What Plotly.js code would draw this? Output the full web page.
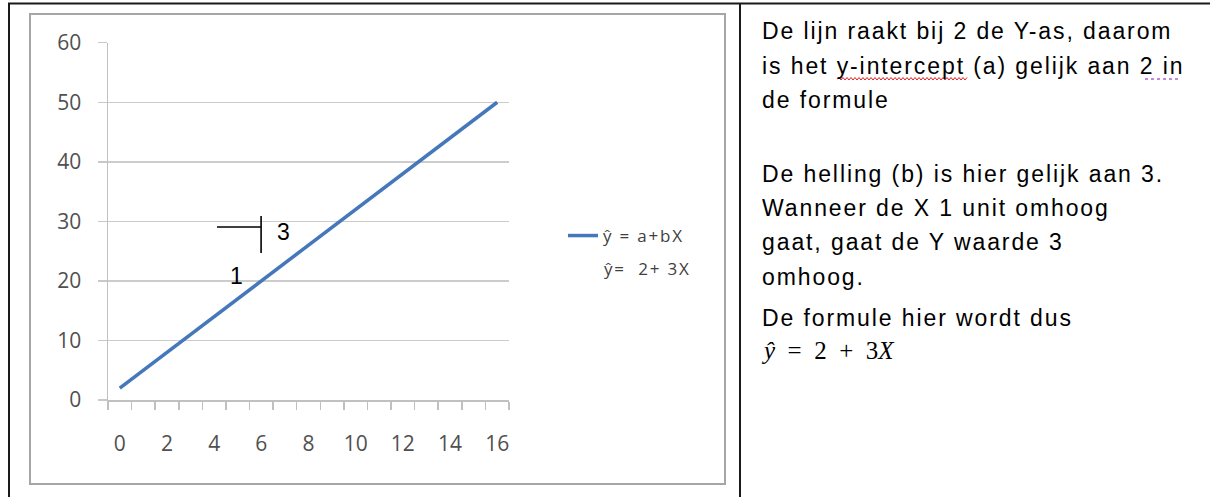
<!DOCTYPE html>
<html>
<head>
<meta charset="utf-8">
<script src="https://cdn.plot.ly/plotly-3.0.1.min.js"></script>
<style>
  body {margin:0; padding:0; background:#ffffff;}
  #plot {width:1210px; height:497px;}
  /* screen-rendered Arial in the original is wide, imitate with spacing */
  text.annotation-text[style*="Liberation Sans"] {letter-spacing:1.9px;}
  text.annotation-text[style*="Open Sans"], text.legendtext {letter-spacing:1.8px;}
</style>
</head>
<body>
<div id="plot"></div>
<script>
//data of the chart
const xValues=[0,1,2,3,4,5,6,7,8,9,10,11,12,13,14,15,16];
const yValues=[2,5,8,11,14,17,20,23,26,29,32,35,38,41,44,47,50];
const xTickVals=[0,2,4,6,8,10,12,14,16];
const xTickText=['0','2','4','6','8','10','12','14','16'];
const legendLine1='ŷ = a+bX';
const legendLine2='ŷ=\u00a0\u00a02+ 3X';

//text in the right cell of the table
const rightText=[
  'De lijn raakt bij 2 de Y-as, daarom',
  'is het y-intercept (a) gelijk aan 2 in',
  'de formule',
  'De helling (b) is hier gelijk aan 3.',
  'Wanneer de X 1 unit omhoog',
  'gaat, gaat de Y waarde 3',
  'omhoog.',
  'De formule hier wordt dus'
];
const rightTextY=[31,66,100,174,208,242,277,318];

const W=1210;
const H=497;

//pixel -> paper helpers
function px(x) {
  return x/W;
}
function py(y) {
  return (H-y)/H;
}

//ticks between the categories (excel category axis)
let minorVals=[];
for (let i=0;i<=xValues.length;i++)
{
  minorVals.push(i-0.5);
}

var annotations=[];
for (let i in rightText)
{
  annotations.push({
    xref:'paper', yref:'paper',
    x:px(760), y:py(rightTextY[i]),
    xanchor:'left', yanchor:'middle',
    text:rightText[i], showarrow:false,
    font:{family:'Liberation Sans, Arial, sans-serif', size:23, color:'#000000'}
  });
}
//formula line
annotations.push({
  xref:'paper', yref:'paper',
  x:px(759), y:py(350),
  xanchor:'left', yanchor:'middle',
  text:'<i>ŷ</i>\u2002=\u20022\u2002+\u20023<i>X</i>', showarrow:false,
  font:{family:'Liberation Serif, serif', size:25, color:'#000000'}
});
//second line of the legend
annotations.push({
  xref:'paper', yref:'paper',
  x:px(602), y:py(268),
  xanchor:'left', yanchor:'middle',
  text:legendLine2, showarrow:false,
  font:{family:'Open Sans, sans-serif', size:17, color:'#404040'}
});
//slope labels
annotations.push({
  xref:'x', yref:'y', x:7.0, y:28.2,
  text:'3', showarrow:false,
  font:{family:'Liberation Sans Narrow, Liberation Sans, sans-serif', size:23, color:'#000000'}
});
annotations.push({
  xref:'x', yref:'y', x:5.0, y:20.8,
  text:'1', showarrow:false,
  font:{family:'Liberation Sans Narrow, Liberation Sans, sans-serif', size:23, color:'#000000'}
});

//red spell check wave under y-intercept
let wave='M'+px(837)+','+py(79);
let up=true;
for (let x=839;x<=968;x+=2)
{
  wave+=' L'+px(x)+','+py(up ? 77.5 : 80);
  up=!up;
}

var shapes=[
  //table lines
  {type:'line', xref:'paper', yref:'paper', x0:px(8), x1:px(1210), y0:py(3.5), y1:py(3.5), line:{color:'#1a1a1a', width:2}},
  {type:'line', xref:'paper', yref:'paper', x0:px(9), x1:px(9), y0:py(3), y1:py(497), line:{color:'#1a1a1a', width:2}},
  {type:'line', xref:'paper', yref:'paper', x0:px(740), x1:px(740), y0:py(3), y1:py(497), line:{color:'#1a1a1a', width:2}},
  //chart border
  {type:'rect', xref:'paper', yref:'paper', x0:px(30), x1:px(725), y0:py(484), y1:py(14), line:{color:'#a6a6a6', width:2}},
  //slope triangle
  {type:'line', xref:'x', yref:'y', x0:4.12, x1:5.99, y0:29.05, y1:29.05, line:{color:'#000000', width:1.6}},
  {type:'line', xref:'x', yref:'y', x0:5.99, x1:5.99, y0:30.9, y1:24.7, line:{color:'#000000', width:1.6}},
  //spell check marks
  {type:'path', xref:'paper', yref:'paper', path:wave, line:{color:'#e02020', width:1}},
  {type:'line', xref:'paper', yref:'paper', x0:px(1145), x1:px(1181), y0:py(79), y1:py(79), line:{color:'#b060d0', width:1.5, dash:'dot'}}
];

var data=[{
  x:xValues,
  y:yValues,
  mode:'lines',
  name:legendLine1,
  line:{color:'#4578ba', width:3.5}
}];

var tickFont={family:'Open Sans, sans-serif', size:21, color:'#505050'};

var layout={
  width:W,
  height:H,
  margin:{l:0, r:0, t:0, b:0},
  paper_bgcolor:'#ffffff',
  plot_bgcolor:'#ffffff',
  showlegend:true,
  legend:{
    x:px(563), y:py(236), xanchor:'left', yanchor:'middle',
    bgcolor:'rgba(0,0,0,0)',
    font:{family:'Open Sans, sans-serif', size:17, color:'#404040'}
  },
  xaxis:{
    domain:[px(108), px(509)],
    range:[-0.5, 16.5],
    tickmode:'array',
    tickvals:xTickVals,
    ticktext:xTickText,
    ticks:'',
    ticklabelstandoff:24,
    tickfont:tickFont,
    showgrid:false,
    zeroline:false,
    showline:true,
    linecolor:'#c0c0c0',
    linewidth:1.5,
    minor:{tickmode:'array', tickvals:minorVals, ticks:'outside', ticklen:8, tickwidth:1.5, tickcolor:'#c0c0c0', showgrid:false},
    fixedrange:true
  },
  yaxis:{
    domain:[1-400/H, 1-42.7/H],
    range:[0, 60],
    dtick:10,
    ticks:'outside',
    ticklen:9,
    tickwidth:1.5,
    tickcolor:'#c8c8c8',
    ticklabelstandoff:12,
    tickfont:tickFont,
    showgrid:true,
    gridcolor:'#cccccc',
    gridwidth:1.5,
    zeroline:false,
    showline:true,
    linecolor:'#c0c0c0',
    linewidth:1.5,
    fixedrange:true
  },
  annotations:annotations,
  shapes:shapes
};

Plotly.newPlot('plot', data, layout, {displayModeBar:false, staticPlot:true});
</script>
</body>
</html>
